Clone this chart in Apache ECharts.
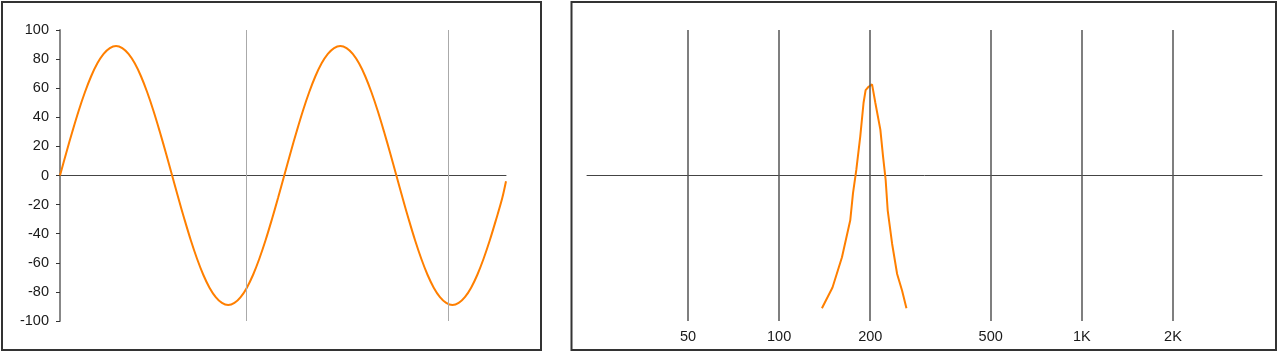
<!DOCTYPE html>
<html>
<head>
<meta charset="utf-8">
<script src="https://cdn.jsdelivr.net/npm/echarts@6/dist/echarts.min.js"></script>
<style>
html,body{margin:0;padding:0;background:#fff;}
#chart{width:1279px;height:354px;}
</style>
</head>
<body>
<div id="chart"></div>
<script>
// ---- Left panel: waveform (phase in degrees, amplitude) ----
const wavePhase = [0,10,20,30,40,50,60,70,80,90,100,110,120,130,140,150,160,170,180,190,200,210,220,230,240,250,260,270,280,290,300,310,320,330,340,350,360,370,380,390,400,410,420,430,440,450,460,470,480,490,500,510,520,530,540,550,560,570,580,590,600,610,620,630,640,650,660,670,680,690,700,710,716];
const waveValue = [0,15.5,30.4,44.5,57.2,68.2,77.1,83.6,87.6,89,87.6,83.6,77.1,68.2,57.2,44.5,30.4,15.5,0,-15.5,-30.4,-44.5,-57.2,-68.2,-77.1,-83.6,-87.6,-89,-87.6,-83.6,-77.1,-68.2,-57.2,-44.5,-30.4,-15.5,0,15.5,30.4,44.5,57.2,68.2,77.1,83.6,87.6,89,87.6,83.6,77.1,68.2,57.2,44.5,30.4,15.5,0,-15.5,-30.4,-44.5,-57.2,-68.2,-77.1,-83.6,-87.6,-89,-87.6,-83.6,-77.1,-68.2,-57.2,-44.5,-30.4,-15.5,-4];
const waveGridX = [299, 624];
const yTicks = [-100,-80,-60,-40,-20,0,20,40,60,80,100];

// ---- Right panel: spectrum (frequency Hz, level) ----
const specFreq = [138.5,150.1,161.3,171.8,175.4,179.9,185.4,190.1,193.1,197.5,202.8,207.9,216.0,220.5,224.9,228.4,236.2,245.4,254.9,263.4];
const specValue = [-91.2,-77.0,-56.2,-30.8,-12.3,3.8,26.9,50.0,58.7,61.0,62.6,50.0,31.5,13.0,-3.1,-23.9,-46.9,-67.7,-79.2,-91.2];
const freqTicks = [50,100,200,500,1000,2000];
const freqLabels = ['50','100','200','500','1K','2K'];

const ORANGE = '#ff7f00';
const FONT = 'Liberation Sans';

const chart = echarts.init(document.getElementById('chart'), null, {renderer:'canvas'});

const option = {
  animation: false,
  backgroundColor: '#fff',
  textStyle: {fontFamily: FONT},
  graphic: [
    {type:'rect', shape:{x:2, y:2, width:539, height:348}, style:{fill:'none', stroke:'#333', lineWidth:2}, silent:true},
    {type:'rect', shape:{x:571.5, y:2, width:704.5, height:348}, style:{fill:'none', stroke:'#333', lineWidth:2}, silent:true}
  ],
  grid: [
    {left:60, top:30, width:446, height:291, containLabel:false},
    {left:587, top:30, width:675, height:291, containLabel:false}
  ],
  xAxis: [
    {type:'value', gridIndex:0, min:0, max:716,
     axisLine:{show:true, onZero:true, lineStyle:{color:'#444', width:1}},
     axisTick:{show:false}, axisLabel:{show:false}, splitLine:{show:false}},
    {type:'log', gridIndex:1, logBase:10, min:23.2, max:3936,
     axisLine:{show:true, onZero:true, lineStyle:{color:'#444', width:1}},
     axisTick:{show:false}, axisLabel:{show:false}, splitLine:{show:false}, minorSplitLine:{show:false}}
  ],
  yAxis: [
    {type:'value', gridIndex:0, min:-100, max:100, interval:20,
     axisLine:{show:true, onZero:false, lineStyle:{color:'#888', width:2}},
     axisTick:{show:true, length:4, lineStyle:{color:'#333', width:1}},
     axisLabel:{show:true, color:'#1a1a1a', fontSize:14.5, fontFamily:FONT, margin:11},
     splitLine:{show:false}},
    {type:'value', gridIndex:1, min:-100, max:100, show:false,
     axisLine:{show:false}, axisTick:{show:false}, axisLabel:{show:false}, splitLine:{show:false}}
  ],
  series: [
    {type:'line', xAxisIndex:0, yAxisIndex:0, data:[], z:1, silent:true,
     markLine:{silent:true, symbol:['none','none'], label:{show:false},
       lineStyle:{color:'#aaa', width:1, type:'solid'},
       data: waveGridX.map(v => ({xAxis:v}))}},
    {type:'line', xAxisIndex:0, yAxisIndex:0, z:3,
     data: wavePhase.map((p,i) => [p, waveValue[i]]),
     smooth:0.35, showSymbol:false, symbol:'none',
     lineStyle:{color:ORANGE, width:2}},
    {type:'line', xAxisIndex:1, yAxisIndex:1, data:[], z:1, silent:true,
     markLine:{silent:true, symbol:['none','none'],
       label:{show:true, position:'start', distance:8, color:'#1a1a1a', fontSize:14.5, fontFamily:FONT,
              formatter: p => freqLabels[freqTicks.indexOf(p.value)]},
       lineStyle:{color:'#555', width:1.5, type:'solid'},
       data: freqTicks.map(v => ({xAxis:v}))}},
    {type:'line', xAxisIndex:1, yAxisIndex:1, z:3,
     data: specFreq.map((f,i) => [f, specValue[i]]),
     smooth:false, showSymbol:false, symbol:'none',
     lineStyle:{color:ORANGE, width:2}}
  ]
};
chart.setOption(option);
</script>
</body>
</html>
